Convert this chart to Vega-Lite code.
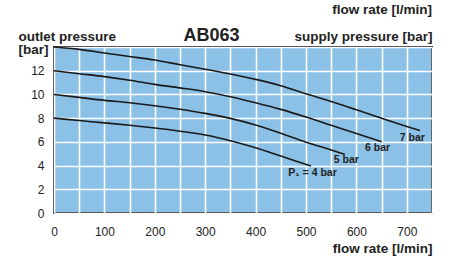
{
  "$schema": "https://vega.github.io/schema/vega-lite/v6.json",
  "autosize": "none",
  "width": 378,
  "height": 166,
  "padding": {"left": 54, "top": 47, "right": 17, "bottom": 43},
  "background": "white",
  "title": {
    "text": "flow rate  [l/min]",
    "anchor": "end",
    "frame": "group",
    "font": "Liberation Sans",
    "fontSize": 13.5,
    "fontWeight": "bold",
    "color": "#222222",
    "offset": 10
  },
  "config": {
    "view": {"fill": "#8BC1E6", "stroke": "#222222", "strokeWidth": 2},
    "font": "Liberation Sans",
    "axis": {
      "labelFont": "Liberation Sans",
      "labelFontSize": 12,
      "labelColor": "#222222",
      "titleFont": "Liberation Sans",
      "titleFontSize": 13.5,
      "titleFontWeight": "bold",
      "titleColor": "#222222",
      "ticks": false,
      "tickSize": 0,
      "domain": false,
      "gridColor": "#ffffff",
      "gridWidth": 1.6,
      "gridOpacity": 1
    }
  },
  "datasets": {
    "curves": [
      {"flow": 0, "pressure": 14.0, "supply": "7 bar"},
      {"flow": 50, "pressure": 13.8, "supply": "7 bar"},
      {"flow": 100, "pressure": 13.5, "supply": "7 bar"},
      {"flow": 150, "pressure": 13.2, "supply": "7 bar"},
      {"flow": 200, "pressure": 12.9, "supply": "7 bar"},
      {"flow": 250, "pressure": 12.5, "supply": "7 bar"},
      {"flow": 300, "pressure": 12.12, "supply": "7 bar"},
      {"flow": 350, "pressure": 11.72, "supply": "7 bar"},
      {"flow": 400, "pressure": 11.27, "supply": "7 bar"},
      {"flow": 450, "pressure": 10.74, "supply": "7 bar"},
      {"flow": 500, "pressure": 10.05, "supply": "7 bar"},
      {"flow": 550, "pressure": 9.4, "supply": "7 bar"},
      {"flow": 600, "pressure": 8.7, "supply": "7 bar"},
      {"flow": 650, "pressure": 8.0, "supply": "7 bar"},
      {"flow": 700, "pressure": 7.3, "supply": "7 bar"},
      {"flow": 726, "pressure": 6.95, "supply": "7 bar"},
      {"flow": 0, "pressure": 12.0, "supply": "6 bar"},
      {"flow": 50, "pressure": 11.75, "supply": "6 bar"},
      {"flow": 100, "pressure": 11.5, "supply": "6 bar"},
      {"flow": 150, "pressure": 11.2, "supply": "6 bar"},
      {"flow": 200, "pressure": 10.85, "supply": "6 bar"},
      {"flow": 250, "pressure": 10.55, "supply": "6 bar"},
      {"flow": 300, "pressure": 10.23, "supply": "6 bar"},
      {"flow": 350, "pressure": 9.81, "supply": "6 bar"},
      {"flow": 400, "pressure": 9.3, "supply": "6 bar"},
      {"flow": 450, "pressure": 8.74, "supply": "6 bar"},
      {"flow": 500, "pressure": 8.1, "supply": "6 bar"},
      {"flow": 550, "pressure": 7.4, "supply": "6 bar"},
      {"flow": 600, "pressure": 6.7, "supply": "6 bar"},
      {"flow": 650, "pressure": 6.01, "supply": "6 bar"},
      {"flow": 0, "pressure": 10.0, "supply": "5 bar"},
      {"flow": 50, "pressure": 9.75, "supply": "5 bar"},
      {"flow": 100, "pressure": 9.5, "supply": "5 bar"},
      {"flow": 150, "pressure": 9.3, "supply": "5 bar"},
      {"flow": 200, "pressure": 9.05, "supply": "5 bar"},
      {"flow": 250, "pressure": 8.75, "supply": "5 bar"},
      {"flow": 300, "pressure": 8.4, "supply": "5 bar"},
      {"flow": 350, "pressure": 7.98, "supply": "5 bar"},
      {"flow": 400, "pressure": 7.42, "supply": "5 bar"},
      {"flow": 450, "pressure": 6.72, "supply": "5 bar"},
      {"flow": 500, "pressure": 5.97, "supply": "5 bar"},
      {"flow": 550, "pressure": 5.32, "supply": "5 bar"},
      {"flow": 577, "pressure": 4.95, "supply": "5 bar"},
      {"flow": 0, "pressure": 8.0, "supply": "4 bar"},
      {"flow": 50, "pressure": 7.8, "supply": "4 bar"},
      {"flow": 100, "pressure": 7.6, "supply": "4 bar"},
      {"flow": 150, "pressure": 7.4, "supply": "4 bar"},
      {"flow": 200, "pressure": 7.17, "supply": "4 bar"},
      {"flow": 250, "pressure": 6.9, "supply": "4 bar"},
      {"flow": 300, "pressure": 6.58, "supply": "4 bar"},
      {"flow": 350, "pressure": 6.1, "supply": "4 bar"},
      {"flow": 400, "pressure": 5.5, "supply": "4 bar"},
      {"flow": 450, "pressure": 4.8, "supply": "4 bar"},
      {"flow": 484, "pressure": 4.33, "supply": "4 bar"},
      {"flow": 510, "pressure": 3.97, "supply": "4 bar"}
    ],
    "labels": [
      {"flow": 736, "pressure": 6.32, "label": "7 bar"},
      {"flow": 667, "pressure": 5.51, "label": "6 bar"},
      {"flow": 605, "pressure": 4.47, "label": "5 bar"},
      {"flow": 561, "pressure": 3.37, "label": "P₁ = 4 bar"}
    ]
  },
  "layer": [
    {
      "data": {"name": "curves"},
      "mark": {"type": "line", "color": "#1a1a1a", "strokeWidth": 1.6, "interpolate": "monotone"},
      "encoding": {
        "x": {
          "field": "flow",
          "type": "quantitative",
          "scale": {"domain": [0, 750], "nice": false, "zero": false},
          "axis": {
            "orient": "bottom",
            "values": [0, 50, 100, 150, 200, 250, 300, 350, 400, 450, 500, 550, 600, 650, 700, 750],
            "labelExpr": "datum.value % 100 == 0 && datum.value < 750 ? datum.label : ''",
            "labelPadding": 13,
            "labelFlush": false,
            "grid": true,
            "title": "flow rate [l/min]",
            "titleX": 378,
            "titleY": 39,
            "titleAlign": "right",
            "titleBaseline": "alphabetic",
            "titleAnchor": null
          }
        },
        "y": {
          "field": "pressure",
          "type": "quantitative",
          "scale": {"domain": [0, 14], "nice": false, "zero": false},
          "axis": {
            "orient": "left",
            "values": [0, 2, 4, 6, 8, 10, 12, 14],
            "labelExpr": "datum.value < 14 ? datum.label : ''",
            "labelPadding": 10,
            "labelFlush": false,
            "grid": true,
            "title": ["outlet pressure", "[bar]"],
            "titleAngle": 0,
            "titleX": -36,
            "titleY": -7,
            "titleAlign": "left",
            "titleBaseline": "alphabetic",
            "titleLineHeight": 13
          }
        },
        "detail": {"field": "supply"}
      }
    },
    {
      "data": {"name": "labels"},
      "mark": {"type": "text", "align": "right", "baseline": "middle", "font": "Liberation Sans", "fontSize": 10.5, "fontWeight": "bold", "color": "#222222"},
      "encoding": {
        "x": {
          "field": "flow",
          "type": "quantitative",
          "axis": {
            "orient": "top",
            "labels": false,
            "grid": false,
            "title": "AB063",
            "titleFontSize": 18,
            "titleX": 157,
            "titleY": -6.3,
            "titleAlign": "center",
            "titleBaseline": "alphabetic"
          }
        },
        "y": {
          "field": "pressure",
          "type": "quantitative",
          "axis": {
            "orient": "right",
            "labels": false,
            "grid": false,
            "title": "supply pressure [bar]",
            "titleAngle": 0,
            "titleX": 0,
            "titleY": -6.5,
            "titleAlign": "right",
            "titleBaseline": "alphabetic"
          }
        },
        "text": {"field": "label"}
      }
    }
  ],
  "resolve": {"axis": {"x": "independent", "y": "independent"}}
}
